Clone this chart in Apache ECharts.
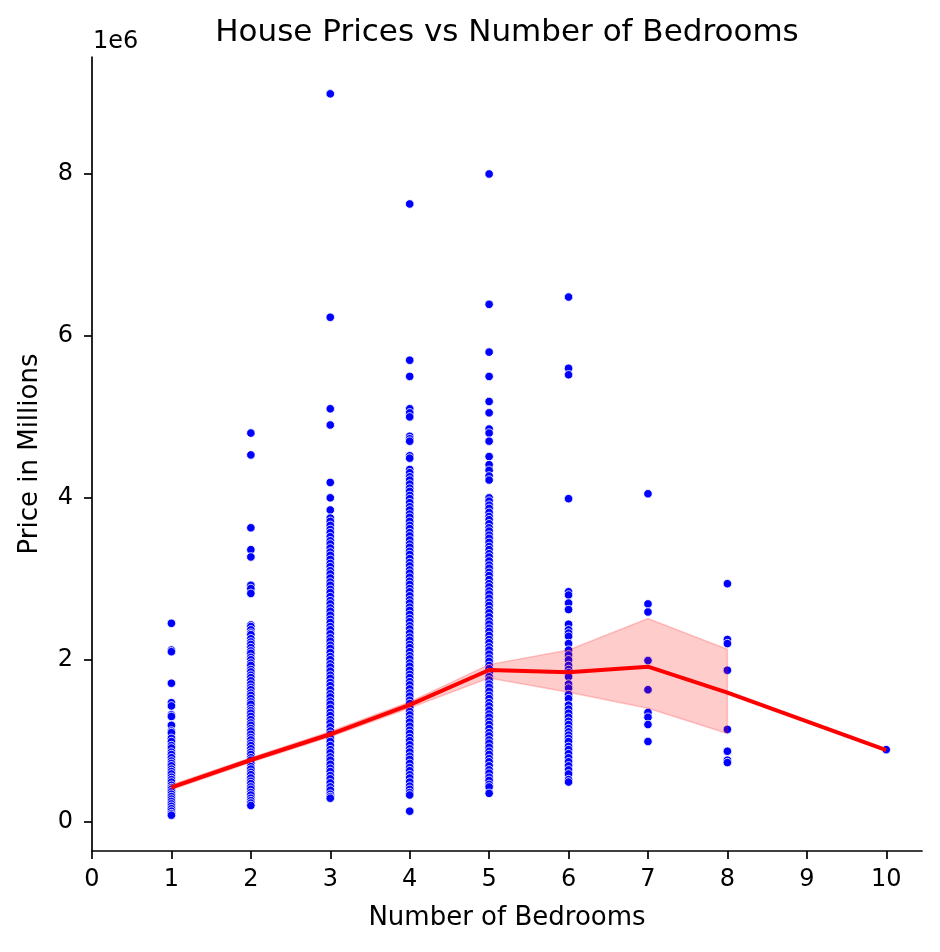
<!DOCTYPE html>
<html><head><meta charset="utf-8">
<script src="https://cdn.jsdelivr.net/npm/echarts@6/dist/echarts.min.js"></script>
<style>html,body{margin:0;padding:0;background:#fff}#c{width:940px;height:952px}</style>
</head><body><div id="c"></div>
<script>
// Prices in millions (axis shows "1e6" offset)
const price1 = [2.45, 2.12, 2.10, 1.71, 1.47, 1.43, 1.32, 1.30, 1.19, 1.12, 1.10, 1.03, 0.99, 0.94, 0.91, 0.86, 0.83, 0.79, 0.75, 0.72, 0.69, 0.65, 0.62, 0.59, 0.55, 0.52, 0.49, 0.45, 0.42, 0.40, 0.37, 0.34, 0.31, 0.28, 0.25, 0.22, 0.19, 0.16, 0.13, 0.10, 0.08];
const price2 = [4.80, 4.53, 3.63, 3.36, 3.27, 2.92, 2.88, 2.82, 2.43, 2.41, 2.37, 2.33, 2.31, 2.26, 2.22, 2.19, 2.15, 2.11, 2.08, 2.03, 2.00, 1.96, 1.93, 1.88, 1.85, 1.81, 1.78, 1.74, 1.70, 1.66, 1.63, 1.59, 1.56, 1.52, 1.48, 1.45, 1.40, 1.37, 1.34, 1.30, 1.26, 1.22, 1.19, 1.15, 1.12, 1.08, 1.04, 1.01, 0.97, 0.94, 0.90, 0.86, 0.83, 0.79, 0.76, 0.72, 0.68, 0.65, 0.61, 0.58, 0.54, 0.50, 0.47, 0.43, 0.40, 0.36, 0.33, 0.29, 0.26, 0.23, 0.20];
const price3 = [8.99, 6.23, 5.10, 4.90, 4.19, 4.00, 3.85, 3.75, 3.71, 3.66, 3.61, 3.57, 3.52, 3.47, 3.43, 3.38, 3.33, 3.29, 3.24, 3.19, 3.15, 3.10, 3.06, 3.01, 2.96, 2.92, 2.87, 2.83, 2.78, 2.73, 2.69, 2.64, 2.60, 2.55, 2.50, 2.46, 2.41, 2.37, 2.32, 2.27, 2.23, 2.18, 2.14, 2.09, 2.04, 2.00, 1.95, 1.91, 1.86, 1.81, 1.77, 1.72, 1.68, 1.63, 1.58, 1.54, 1.49, 1.45, 1.40, 1.35, 1.31, 1.26, 1.22, 1.17, 1.12, 1.08, 1.03, 0.99, 0.94, 0.89, 0.85, 0.80, 0.76, 0.71, 0.66, 0.62, 0.57, 0.53, 0.48, 0.43, 0.39, 0.34, 0.31, 0.29];
const price4 = [7.63, 5.70, 5.50, 5.10, 5.05, 5.00, 4.76, 4.73, 4.70, 4.52, 4.49, 4.35, 4.31, 4.26, 4.22, 4.17, 4.12, 4.08, 4.03, 3.99, 3.94, 3.89, 3.85, 3.80, 3.76, 3.71, 3.66, 3.62, 3.57, 3.53, 3.48, 3.43, 3.39, 3.34, 3.30, 3.25, 3.20, 3.16, 3.11, 3.07, 3.02, 2.97, 2.93, 2.88, 2.84, 2.79, 2.74, 2.70, 2.65, 2.61, 2.56, 2.51, 2.47, 2.42, 2.38, 2.33, 2.28, 2.24, 2.19, 2.15, 2.10, 2.05, 2.01, 1.96, 1.92, 1.87, 1.82, 1.78, 1.73, 1.69, 1.64, 1.59, 1.55, 1.50, 1.46, 1.41, 1.36, 1.32, 1.27, 1.23, 1.18, 1.13, 1.09, 1.04, 1.00, 0.95, 0.90, 0.86, 0.81, 0.77, 0.72, 0.67, 0.63, 0.58, 0.54, 0.49, 0.44, 0.40, 0.36, 0.33, 0.13];
const price5 = [8.00, 6.39, 5.80, 5.50, 5.19, 5.05, 4.85, 4.80, 4.70, 4.51, 4.41, 4.34, 4.27, 4.22, 4.00, 3.96, 3.91, 3.87, 3.82, 3.77, 3.73, 3.68, 3.63, 3.59, 3.54, 3.50, 3.45, 3.40, 3.36, 3.31, 3.27, 3.22, 3.17, 3.13, 3.08, 3.04, 2.99, 2.94, 2.90, 2.85, 2.81, 2.76, 2.71, 2.67, 2.62, 2.58, 2.53, 2.48, 2.44, 2.39, 2.35, 2.30, 2.25, 2.21, 2.16, 2.12, 2.07, 2.02, 1.98, 1.93, 1.89, 1.84, 1.79, 1.75, 1.70, 1.66, 1.61, 1.56, 1.52, 1.47, 1.43, 1.38, 1.33, 1.29, 1.24, 1.20, 1.15, 1.10, 1.06, 1.01, 0.97, 0.92, 0.87, 0.83, 0.78, 0.74, 0.69, 0.64, 0.60, 0.55, 0.51, 0.46, 0.43, 0.35];
const price6 = [6.48, 5.60, 5.52, 3.99, 2.84, 2.80, 2.70, 2.62, 2.44, 2.37, 2.33, 2.29, 2.20, 2.12, 2.06, 2.00, 1.93, 1.88, 1.84, 1.79, 1.70, 1.65, 1.57, 1.52, 1.44, 1.39, 1.34, 1.29, 1.24, 1.20, 1.15, 1.11, 1.07, 1.03, 0.99, 0.93, 0.89, 0.84, 0.79, 0.74, 0.69, 0.64, 0.59, 0.52, 0.49];
const price7 = [4.05, 2.69, 2.59, 1.99, 1.63, 1.35, 1.29, 1.20, 0.99];
const price8 = [2.94, 2.25, 2.20, 1.87, 1.14, 0.87, 0.76, 0.73];
const price10 = [0.89];

const scatterBedrooms = [1, 2, 3, 4, 5, 6, 7, 8, 10];
const scatterPrices = [price1, price2, price3, price4, price5, price6, price7, price8, price10];

const meanBedrooms = [1, 2, 3, 4, 5, 6, 7, 8, 10];
const meanPrice = [0.425, 0.762, 1.08, 1.442, 1.874, 1.846, 1.915, 1.594, 0.885];

const bandBedrooms = [1, 2, 3, 4, 5, 6, 7, 8];
const bandLower = [0.395, 0.735, 1.05, 1.405, 1.775, 1.60, 1.40, 1.09];
const bandUpper = [0.455, 0.79, 1.115, 1.48, 1.94, 2.12, 2.51, 2.13];

const xTicks = [0, 1, 2, 3, 4, 5, 6, 7, 8, 9, 10];
const yTicks = [0, 2, 4, 6, 8];

const points = [];
scatterBedrooms.forEach((b, i) => scatterPrices[i].forEach(p => points.push([b, p])));

const FONT = 'DejaVu Sans';
const chart = echarts.init(document.getElementById('c'), null, {renderer: 'canvas'});
chart.setOption({
  animation: false,
  backgroundColor: '#ffffff',
  grid: {left: 92, right: 18, top: 57, bottom: 101, containLabel: false},
  xAxis: {
    type: 'value', min: 0, max: 10.45,
    axisLine: {show: true, onZero: false, lineStyle: {color: '#000', width: 1.7}},
    axisTick: {show: true, length: 8, lineStyle: {color: '#000', width: 1.7}, customValues: xTicks},
    axisLabel: {customValues: xTicks, fontSize: 24, color: '#000', fontFamily: FONT, margin: 17},
    splitLine: {show: false},
    name: 'Number of Bedrooms', nameLocation: 'middle', nameGap: 54,
    nameTextStyle: {fontSize: 26, color: '#000', fontFamily: FONT}
  },
  yAxis: {
    type: 'value', min: -0.362, max: 9.445,
    axisLine: {show: true, onZero: false, lineStyle: {color: '#000', width: 1.7}},
    axisTick: {show: true, length: 8, lineStyle: {color: '#000', width: 1.7}, customValues: yTicks},
    axisLabel: {customValues: yTicks, fontSize: 24, color: '#000', fontFamily: FONT, margin: 19},
    splitLine: {show: false},
    name: 'Price in Millions', nameLocation: 'middle', nameGap: 49,
    nameTextStyle: {fontSize: 26, color: '#000', fontFamily: FONT}
  },
  graphic: [
    {type: 'text', x: 507, y: 33, style: {text: 'House Prices vs Number of Bedrooms', font: '31px "DejaVu Sans"', fill: '#000', textAlign: 'center', textVerticalAlign: 'middle'}},
    {type: 'text', x: 93, y: 42, style: {text: '1e6', font: '24px "DejaVu Sans"', fill: '#000', textAlign: 'left', textVerticalAlign: 'middle'}}
  ],
  series: [
    {
      type: 'scatter', data: points, symbol: 'circle', symbolSize: 8.5, z: 2,
      itemStyle: {color: '#0000ff', borderColor: '#ffffff', borderWidth: 0.8, opacity: 1},
      silent: true
    },
    {
      type: 'custom', z: 3, silent: true, data: [[0, 0]],
      renderItem: function (params, api) {
        const pts = [];
        for (let i = 0; i < bandBedrooms.length; i++) pts.push(api.coord([bandBedrooms[i], bandUpper[i]]));
        for (let i = bandBedrooms.length - 1; i >= 0; i--) pts.push(api.coord([bandBedrooms[i], bandLower[i]]));
        return {type: 'polygon', shape: {points: pts}, style: {fill: 'rgba(255,0,0,0.2)', stroke: 'rgba(255,0,0,0.2)', lineWidth: 1.5}};
      }
    },
    {
      type: 'line', z: 4, silent: true, symbol: 'none',
      data: meanBedrooms.map((b, i) => [b, meanPrice[i]]),
      lineStyle: {color: '#ff0000', width: 4}
    }
  ]
});
</script></body></html>
